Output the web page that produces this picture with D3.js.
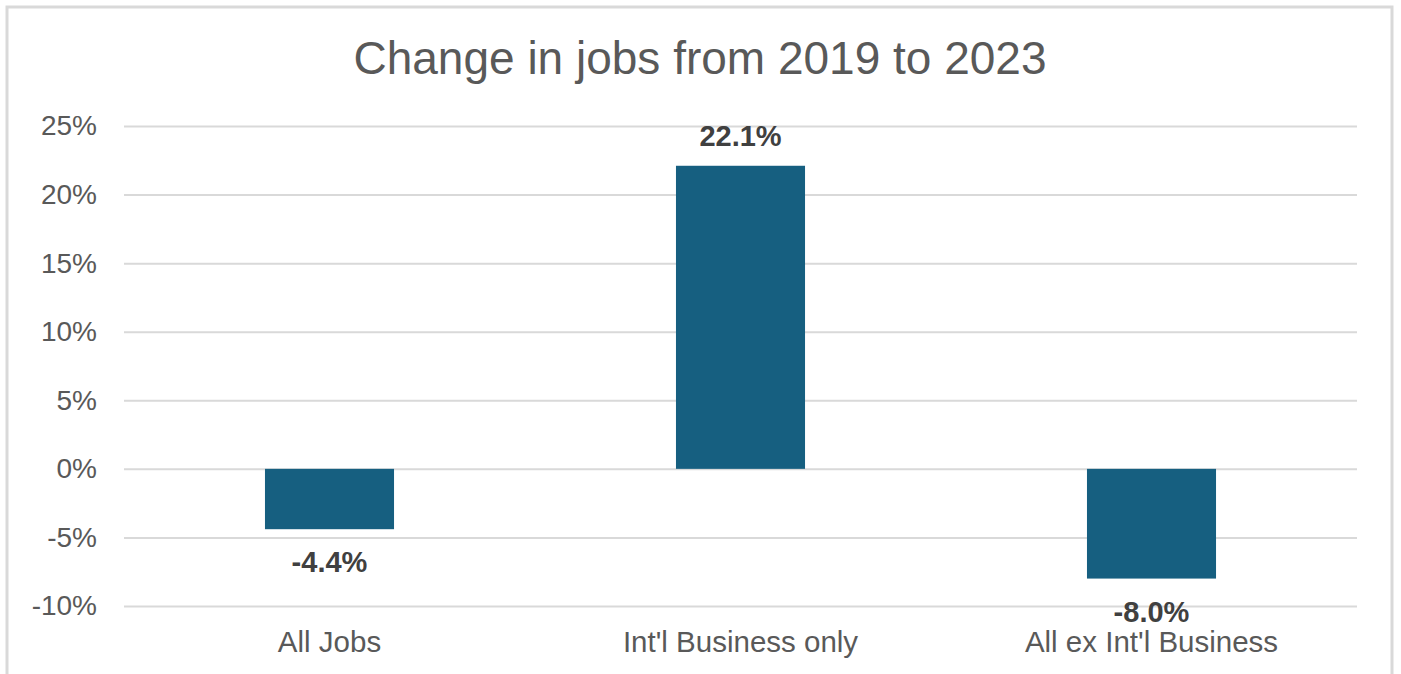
<!DOCTYPE html>
<html><head><meta charset="utf-8">
<script src="https://cdn.jsdelivr.net/npm/d3@7"></script>
<style>html,body{margin:0;padding:0;background:#fff;}svg{display:block;}</style>
</head><body>
<script>
const categories = ["All Jobs", "Int'l Business only", "All ex Int'l Business"];
const values = [-4.4, 22.1, -8.0];
const valueLabels = ["-4.4%", "22.1%", "-8.0%"];
const yTicks = [-10, -5, 0, 5, 10, 15, 20, 25];
const title = "Change in jobs from 2019 to 2023";

const W = 1401, H = 674;
const svg = d3.select("body").append("svg").attr("width", W).attr("height", H);
const font = "Liberation Sans, Arial, sans-serif";

svg.append("rect").attr("x", 7).attr("y", 7).attr("width", 1385).attr("height", 700)
  .attr("fill", "#fff").attr("stroke", "#d9d9d9").attr("stroke-width", 3);

const x = d3.scaleBand().domain(categories).range([124, 1357]).paddingInner(0.686).paddingOuter(0.343);
const y = d3.scaleLinear().domain([-10, 25]).range([606, 126]);

svg.append("text").attr("x", 700).attr("y", 74).attr("text-anchor", "middle")
  .attr("font-family", font).attr("font-size", 46).attr("fill", "#595959").text(title);

const yAxis = d3.axisLeft(y).tickValues(yTicks).tickSize(-(1357 - 124)).tickPadding(27)
  .tickFormat(d => d + "%");
const gy = svg.append("g").attr("transform", "translate(124,0)").call(yAxis);
gy.select(".domain").remove();
gy.selectAll(".tick line").attr("stroke", "#d9d9d9").attr("stroke-width", 2);
gy.selectAll(".tick text").attr("font-family", font).attr("font-size", 28).attr("fill", "#595959");

svg.append("g").selectAll("rect").data(values).join("rect")
  .attr("x", (d, i) => x(categories[i]))
  .attr("width", x.bandwidth())
  .attr("y", d => y(Math.max(0, d)))
  .attr("height", d => Math.abs(y(d) - y(0)))
  .attr("fill", "#165f80");

svg.append("g").selectAll("text").data(values).join("text")
  .attr("x", (d, i) => x(categories[i]) + x.bandwidth() / 2)
  .attr("y", d => d >= 0 ? y(d) - 20 : y(d) + 43)
  .attr("text-anchor", "middle").attr("font-family", font).attr("font-size", 29)
  .attr("font-weight", "bold").attr("fill", "#404040")
  .text((d, i) => valueLabels[i]);

const xAxis = d3.axisBottom(x).tickSize(0).tickPadding(0);
const gx = svg.append("g").attr("transform", "translate(0,652)").call(xAxis);
gx.select(".domain").remove();
gx.selectAll(".tick text").attr("dy", 0).attr("font-family", font).attr("font-size", 29.5).attr("fill", "#595959");
</script>
</body></html>
